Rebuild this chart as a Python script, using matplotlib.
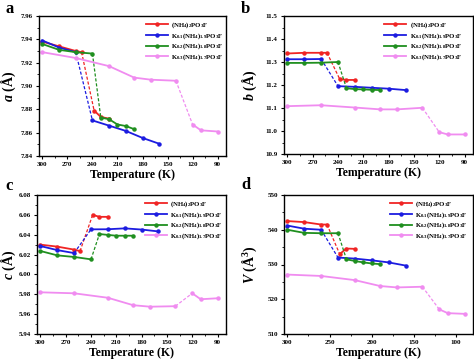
import matplotlib
matplotlib.use("Agg")
import matplotlib.pyplot as plt
from matplotlib.ticker import MultipleLocator, FormatStrFormatter

plt.rcParams['font.family'] = ['Liberation Serif', 'DejaVu Serif']
plt.rcParams['font.weight'] = 'bold'
plt.rcParams['mathtext.fontset'] = 'custom'
plt.rcParams['mathtext.rm'] = 'Liberation Serif:bold'
plt.rcParams['mathtext.it'] = 'Liberation Serif:italic:bold'
plt.rcParams['mathtext.bf'] = 'Liberation Serif:bold'

# ---- data ----
labels = [r"(NH$_4$)$_2$PO$_3$F",
          r"K$_{0.1}$(NH$_4$)$_{1.9}$PO$_3$F",
          r"K$_{0.2}$(NH$_4$)$_{1.8}$PO$_3$F",
          r"K$_{0.3}$(NH$_4$)$_{1.7}$PO$_3$F"]
colors = ['#f02424', '#1c1ce0', '#1f8f1f', '#f08cf0']

T_red = [300, 280, 260, 253, 238, 230, 220]
T_blue = [300, 280, 260, 240, 220, 200, 180, 160]
T_green = [300, 280, 260, 240, 230, 220, 210, 200, 190]
T_pink = [300, 260, 220, 190, 170, 140, 120, 110, 90]
temps = [T_red, T_blue, T_green, T_pink]
breaks = [4, 3, 4, 6]   # index where the dashed transition ends

a_red = [7.938, 7.934, 7.930, 7.929, 7.879, 7.8735, 7.872]
a_blue = [7.939, 7.933, 7.929, 7.8705, 7.866, 7.8615, 7.8555, 7.8505]
a_green = [7.936, 7.931, 7.929, 7.9278, 7.873, 7.8715, 7.867, 7.8657, 7.863]
a_pink = [7.929, 7.924, 7.917, 7.9072, 7.9054, 7.9045, 7.867, 7.862, 7.861]

b_red = [11.337, 11.340, 11.340, 11.340, 11.226, 11.222, 11.222]
b_blue = [11.312, 11.312, 11.313, 11.195, 11.192, 11.188, 11.184, 11.178]
b_green = [11.296, 11.296, 11.297, 11.300, 11.186, 11.182, 11.181, 11.179, 11.178]
b_pink = [11.108, 11.112, 11.102, 11.094, 11.094, 11.101, 10.995, 10.985, 10.985]

c_red = [6.030, 6.028, 6.025, 6.0235, 6.060, 6.058, 6.058]
c_blue = [6.0286, 6.0245, 6.0215, 6.0454, 6.0455, 6.0464, 6.0452, 6.0433]
c_green = [6.0236, 6.0192, 6.0176, 6.0152, 6.0407, 6.0398, 6.039, 6.039, 6.039]
c_pink = [5.982, 5.981, 5.9765, 5.969, 5.9675, 5.968, 5.981, 5.975, 5.976]

V_red = [542.5, 542.2, 541.5, 541.5, 533.0, 534.6, 534.5]
V_blue = [541.2, 540.3, 540.0, 532.0, 531.7, 531.2, 530.6, 529.7]
V_green = [540.0, 539.1, 539.0, 539.0, 531.5, 531.0, 530.6, 530.3, 530.1]
V_pink = [527.1, 526.7, 525.5, 523.8, 523.4, 523.6, 517.1, 516.0, 515.8]

panels = [
    dict(letter='a', vals=[a_red, a_blue, a_green, a_pink], ylabel=r"$a$ (Å)",
         ylim=(7.84, 7.96), ystep=0.02, fmt='%.2f', xstep=30,
         rect=(39, 16, 226, 156), leg=(0.55, 1.0), ylx=18, letx=5, lety=1),
    dict(letter='b', vals=[b_red, b_blue, b_green, b_pink], ylabel=r"$b$ (Å)",
         ylim=(10.9, 11.5), ystep=0.1, fmt='%.1f', xstep=30,
         rect=(284, 16, 473, 154), leg=(0.51, 1.0), ylx=259, letx=241, lety=1),
    dict(letter='c', vals=[c_red, c_blue, c_green, c_pink], ylabel=r"$c$ (Å)",
         ylim=(5.94, 6.08), ystep=0.02, fmt='%.2f', xstep=30,
         rect=(37, 195, 226, 334), leg=(0.55, 1.0), ylx=18, letx=5, lety=178),
    dict(letter='d', vals=[V_red, V_blue, V_green, V_pink], ylabel=r"$V$ (Å$^3$)",
         ylim=(510, 550), ystep=10, fmt='%d', xstep=50,
         rect=(284, 195, 473, 334), leg=(0.54, 1.0), ylx=259, letx=241, lety=177),
]

W, H = 474, 360
fig = plt.figure(figsize=(W / 100, H / 100), dpi=100)

for p in panels:
    l, t, r, b = p['rect']
    ax = fig.add_axes([l / W, 1 - b / H, (r - l) / W, (b - t) / H])
    handles = []
    for T, v, col, k, lab in zip(temps, p['vals'], colors, breaks, labels):
        h, = ax.plot(T[:k], v[:k], '-o', color=col, lw=1.3, ms=2.2, mfc=col, label=lab)
        ax.plot(T[k:], v[k:], '-o', color=col, lw=1.3, ms=2.2, mfc=col)
        ax.plot(T[k - 1:k + 1], v[k - 1:k + 1], color=col, lw=0.9, ls=(0, (2.5, 1.5)))
        handles.append(h)
    ax.set_xlim(304, 80)
    ax.set_ylim(*p['ylim'])
    ax.xaxis.set_major_locator(MultipleLocator(p['xstep']))
    ax.xaxis.set_minor_locator(MultipleLocator(p['xstep'] / 2))
    ax.yaxis.set_major_locator(MultipleLocator(p['ystep']))
    ax.yaxis.set_minor_locator(MultipleLocator(p['ystep'] / 2))
    ax.yaxis.set_major_formatter(FormatStrFormatter(p['fmt']))
    ax.tick_params(which='major', direction='out', length=2.5, width=0.8, labelsize=5, pad=2)
    ax.tick_params(which='minor', direction='out', length=1.5, width=0.6)
    for s in ax.spines.values():
        s.set_linewidth(1.0)
    for lbl in ax.get_xticklabels() + ax.get_yticklabels():
        lbl.set_fontweight('bold')
    ax.set_xlabel('Temperature (K)', fontsize=8.5, fontweight='bold', labelpad=1)
    ax.set_ylabel(p['ylabel'], fontsize=10, fontweight='bold')
    ax.yaxis.set_label_coords((p['ylx'] - l) / (r - l), 0.5)
    ax.legend(handles=handles, loc='upper left', bbox_to_anchor=p['leg'], frameon=False,
              handlelength=3.2, handletextpad=0.5, labelspacing=0.15,
              borderaxespad=0.2, prop={'size': 4.9, 'weight': 'bold'})
    fig.text(p['letx'] / W, 1 - p['lety'] / H, p['letter'],
             fontsize=12, fontweight='bold', va='top', ha='left')

fig.savefig('out.png', dpi=100)
